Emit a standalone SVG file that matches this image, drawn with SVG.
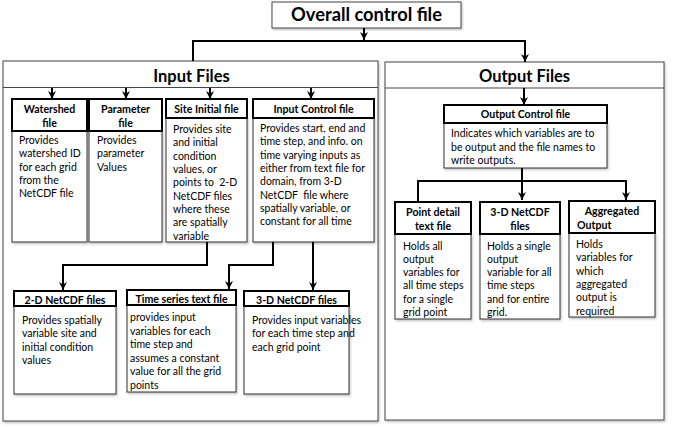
<svg xmlns="http://www.w3.org/2000/svg" width="696" height="427" viewBox="0 0 696 427">
<defs>
<filter id="sh" x="-5%" y="-5%" width="115%" height="115%"><feDropShadow dx="1" dy="1.5" stdDeviation="0.8" flood-color="#000" flood-opacity="0.25"/></filter>
<marker id="ah" markerUnits="userSpaceOnUse" markerWidth="10" markerHeight="10" refX="9" refY="5" orient="auto"><path d="M1,1 L9,5 L1,9 L3.5,5 z" fill="#000"/></marker>
</defs>
<style>
text{font-family:Lato,"Liberation Sans",sans-serif;fill:#000}
.b{font-size:10.5px}
.h{font-size:10.6px;font-weight:bold;text-anchor:middle}
.t{font-size:16.5px;font-weight:bold;text-anchor:middle}
.big{fill:#fff;stroke:#444;stroke-width:1}
.hd{fill:#fff;stroke:#000;stroke-width:2}
.bd{fill:#fff;stroke:#333;stroke-width:1}
.c{fill:none;stroke:#000;stroke-width:2;marker-end:url(#ah)}
.sh{filter:url(#sh)}
</style>
<rect width="696" height="427" fill="#fff"/>

<g id="overall">
<rect class="big sh" x="272" y="2" width="189" height="26"/>
<text x="366.5" y="21" style="font-size:18.3px;font-weight:bold;text-anchor:middle">Overall control file</text>
</g>

<g id="input-files">
<rect class="big sh" x="3" y="61" width="375" height="360"/>
<line x1="3" y1="87.5" x2="378" y2="87.5" stroke="#444" stroke-width="1"/>
<text class="t" x="191.5" y="82">Input Files</text>
</g>

<g id="output-files">
<rect class="big sh" x="385" y="62" width="279" height="358"/>
<line x1="385" y1="88" x2="664" y2="88" stroke="#444" stroke-width="1"/>
<text class="t" x="524.5" y="82">Output Files</text>
</g>

<g id="watershed">
<rect class="bd sh" x="12" y="131" width="75" height="111"/>
<rect class="hd" x="12" y="99" width="75" height="32"/>
<text class="h" x="49.5" y="113">Watershed</text>
<text class="h" x="49.5" y="126.5">file</text>
<text class="b" x="19" y="144">Provides</text>
<text class="b" x="19" y="157.3">watershed ID</text>
<text class="b" x="19" y="170.6">for each grid</text>
<text class="b" x="19" y="184">from the</text>
<text class="b" x="19" y="197.3">NetCDF file</text>
</g>

<g id="parameter">
<rect class="bd sh" x="89" y="131" width="73" height="111"/>
<rect class="hd" x="89" y="99" width="73" height="32"/>
<text class="h" x="125.5" y="113">Parameter</text>
<text class="h" x="125.5" y="126.5">file</text>
<text class="b" x="97" y="144">Provides</text>
<text class="b" x="97" y="157.3">parameter</text>
<text class="b" x="97" y="170.6">Values</text>
</g>

<g id="site-initial">
<rect class="bd sh" x="166" y="118" width="81" height="124"/>
<rect class="hd" x="166" y="99" width="81" height="19"/>
<text class="h" x="206.5" y="113">Site Initial file</text>
<text class="b" x="173" y="133">Provides site</text>
<text class="b" x="173" y="146.3">and initial</text>
<text class="b" x="173" y="159.6">condition</text>
<text class="b" x="173" y="173">values, or</text>
<text class="b" x="173" y="186.3" xml:space="preserve">points to  2-D</text>
<text class="b" x="173" y="199.6">NetCDF files</text>
<text class="b" x="173" y="213">where these</text>
<text class="b" x="173" y="226.3">are spatially</text>
<text class="b" x="173" y="239.6">variable</text>
</g>

<g id="input-control">
<rect class="bd sh" x="253" y="118" width="121" height="124"/>
<rect class="hd" x="253" y="99" width="121" height="19"/>
<text class="h" x="313.5" y="113">Input Control file</text>
<text class="b" x="260" y="132">Provides start, end and</text>
<text class="b" x="260" y="145.3">time step, and info. on</text>
<text class="b" x="260" y="158.6">time varying inputs as</text>
<text class="b" x="260" y="172">either from text file for</text>
<text class="b" x="260" y="185.3">domain, from 3-D</text>
<text class="b" x="260" y="198.6" xml:space="preserve">NetCDF  file where</text>
<text class="b" x="260" y="212">spatially variable, or</text>
<text class="b" x="260" y="225.3">constant for all time</text>
</g>

<g id="netcdf-2d">
<rect class="bd sh" x="14" y="306" width="102" height="88"/>
<rect class="hd" x="14" y="291" width="102" height="15"/>
<text class="h" x="65" y="303.5">2-D NetCDF files</text>
<text class="b" x="22" y="324">Provides spatially</text>
<text class="b" x="22" y="337.3">variable site and</text>
<text class="b" x="22" y="350.6">initial condition</text>
<text class="b" x="22" y="364">values</text>
</g>

<g id="time-series">
<rect class="bd sh" x="127" y="305" width="109" height="87"/>
<rect class="hd" x="127" y="290" width="109" height="15"/>
<text class="h" x="181.5" y="302.5">Time series text file</text>
<text class="b" x="130" y="321">provides input</text>
<text class="b" x="130" y="334.5">variables for each</text>
<text class="b" x="130" y="348">time step and</text>
<text class="b" x="130" y="361.5">assumes a constant</text>
<text class="b" x="130" y="375">value for all the grid</text>
<text class="b" x="130" y="388.5">points</text>
</g>

<g id="netcdf-3d-in">
<rect class="bd sh" x="244" y="306" width="105" height="88"/>
<rect class="hd" x="244" y="291" width="105" height="15"/>
<text class="h" x="296.5" y="303.5">3-D NetCDF files</text>
<text class="b" x="252" y="324">Provides input variables</text>
<text class="b" x="252" y="337.3">for each time step and</text>
<text class="b" x="252" y="350.6">each grid point</text>
</g>

<g id="output-control">
<rect class="bd sh" x="444" y="123" width="163" height="45"/>
<rect class="hd" x="444" y="105" width="163" height="18"/>
<text class="h" x="525.5" y="117.5">Output Control file</text>
<text class="b" x="451" y="137">Indicates which variables are to</text>
<text class="b" x="451" y="150.5">be output and the file names to</text>
<text class="b" x="451" y="164">write outputs.</text>
</g>

<g id="point-detail">
<rect class="bd sh" x="395" y="234" width="76" height="85"/>
<rect class="hd" x="395" y="202" width="76" height="32"/>
<text class="h" x="433" y="216">Point detail</text>
<text class="h" x="433" y="229.5">text file</text>
<text class="b" x="403" y="249.5">Holds all</text>
<text class="b" x="403" y="262.8">output</text>
<text class="b" x="403" y="276.1">variables for</text>
<text class="b" x="403" y="289.4">all time steps</text>
<text class="b" x="403" y="302.7">for a single</text>
<text class="b" x="403" y="316">grid point</text>
</g>

<g id="netcdf-3d-out">
<rect class="bd sh" x="480" y="234" width="80" height="85"/>
<rect class="hd" x="480" y="202" width="80" height="32"/>
<text class="h" x="520" y="216">3-D NetCDF</text>
<text class="h" x="520" y="229.5">files</text>
<text class="b" x="487" y="249.5">Holds a single</text>
<text class="b" x="487" y="262.8">output</text>
<text class="b" x="487" y="276.1">variable for all</text>
<text class="b" x="487" y="289.4">time steps</text>
<text class="b" x="487" y="302.7">and for entire</text>
<text class="b" x="487" y="316">grid.</text>
</g>

<g id="aggregated">
<rect class="bd sh" x="569" y="233" width="86" height="84"/>
<rect class="hd" x="569" y="201" width="86" height="32"/>
<text class="h" x="612" y="215">Aggregated</text>
<text x="577" y="228.5" style="font-size:10.6px;font-weight:bold">Output</text>
<text class="b" x="576" y="248">Holds</text>
<text class="b" x="576" y="261.3">variables for</text>
<text class="b" x="576" y="274.6">which</text>
<text class="b" x="576" y="288">aggregated</text>
<text class="b" x="576" y="301.3">output is</text>
<text class="b" x="576" y="314.6">required</text>
</g>

<g id="connectors">
<line x1="364" y1="28" x2="364" y2="40" class="c"/>
<polyline points="193,61 193,41 525,41 525,62" class="c"/>
<line x1="52" y1="88" x2="52" y2="99" class="c"/>
<line x1="126" y1="88" x2="126" y2="99" class="c"/>
<line x1="210" y1="88" x2="210" y2="99" class="c"/>
<line x1="311" y1="88" x2="311" y2="99" class="c"/>
<polyline points="207,242 207,265 63,265 63,290" class="c"/>
<polyline points="273,242 273,265 229,265 229,289" class="c"/>
<line x1="313" y1="242" x2="313" y2="290" class="c"/>
<line x1="524" y1="88" x2="524" y2="105" class="c"/>
<line x1="522" y1="168" x2="522" y2="200" class="c"/>
<polyline points="418,201 418,181 626,181 626,200" class="c"/>
</g>
</svg>
